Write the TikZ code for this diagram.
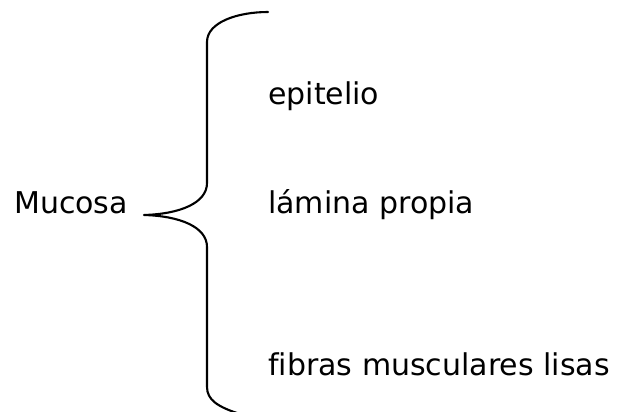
\documentclass[tikz,border=0pt]{standalone}
\usepackage{fontspec}
\setmainfont[Ligatures=NoCommon]{DejaVu Sans}
\begin{document}
\begin{tikzpicture}[x=1pt,y=-1pt,
  lbl/.style={anchor=base west,inner sep=0pt,font=\fontsize{30}{36}\selectfont},
  bracestroke/.style={line width=2.1pt,line cap=round,line join=round}]
\useasboundingbox (0,0) rectangle (624,412);
\node[lbl] (mucosa) at (14,213) {Mucosa};
\node[lbl] (epi) at (268,104) {epitelio};
\node[lbl] (lam) at (268,213) {lámina propia};
\node[lbl] (fib) at (268,375) {fibras musculares lisas};
\coordinate (tip) at (144,215);
\draw[bracestroke] (268,12) .. controls (238,12) and (207,22) .. (207,42)
  -- (207,183) .. controls (207,203) and (180,214) .. (tip)
  .. controls (180,216) and (207,227) .. (207,247)
  -- (207,387) .. controls (207,400) and (218,407) .. (240,414);
\end{tikzpicture}
\end{document}
